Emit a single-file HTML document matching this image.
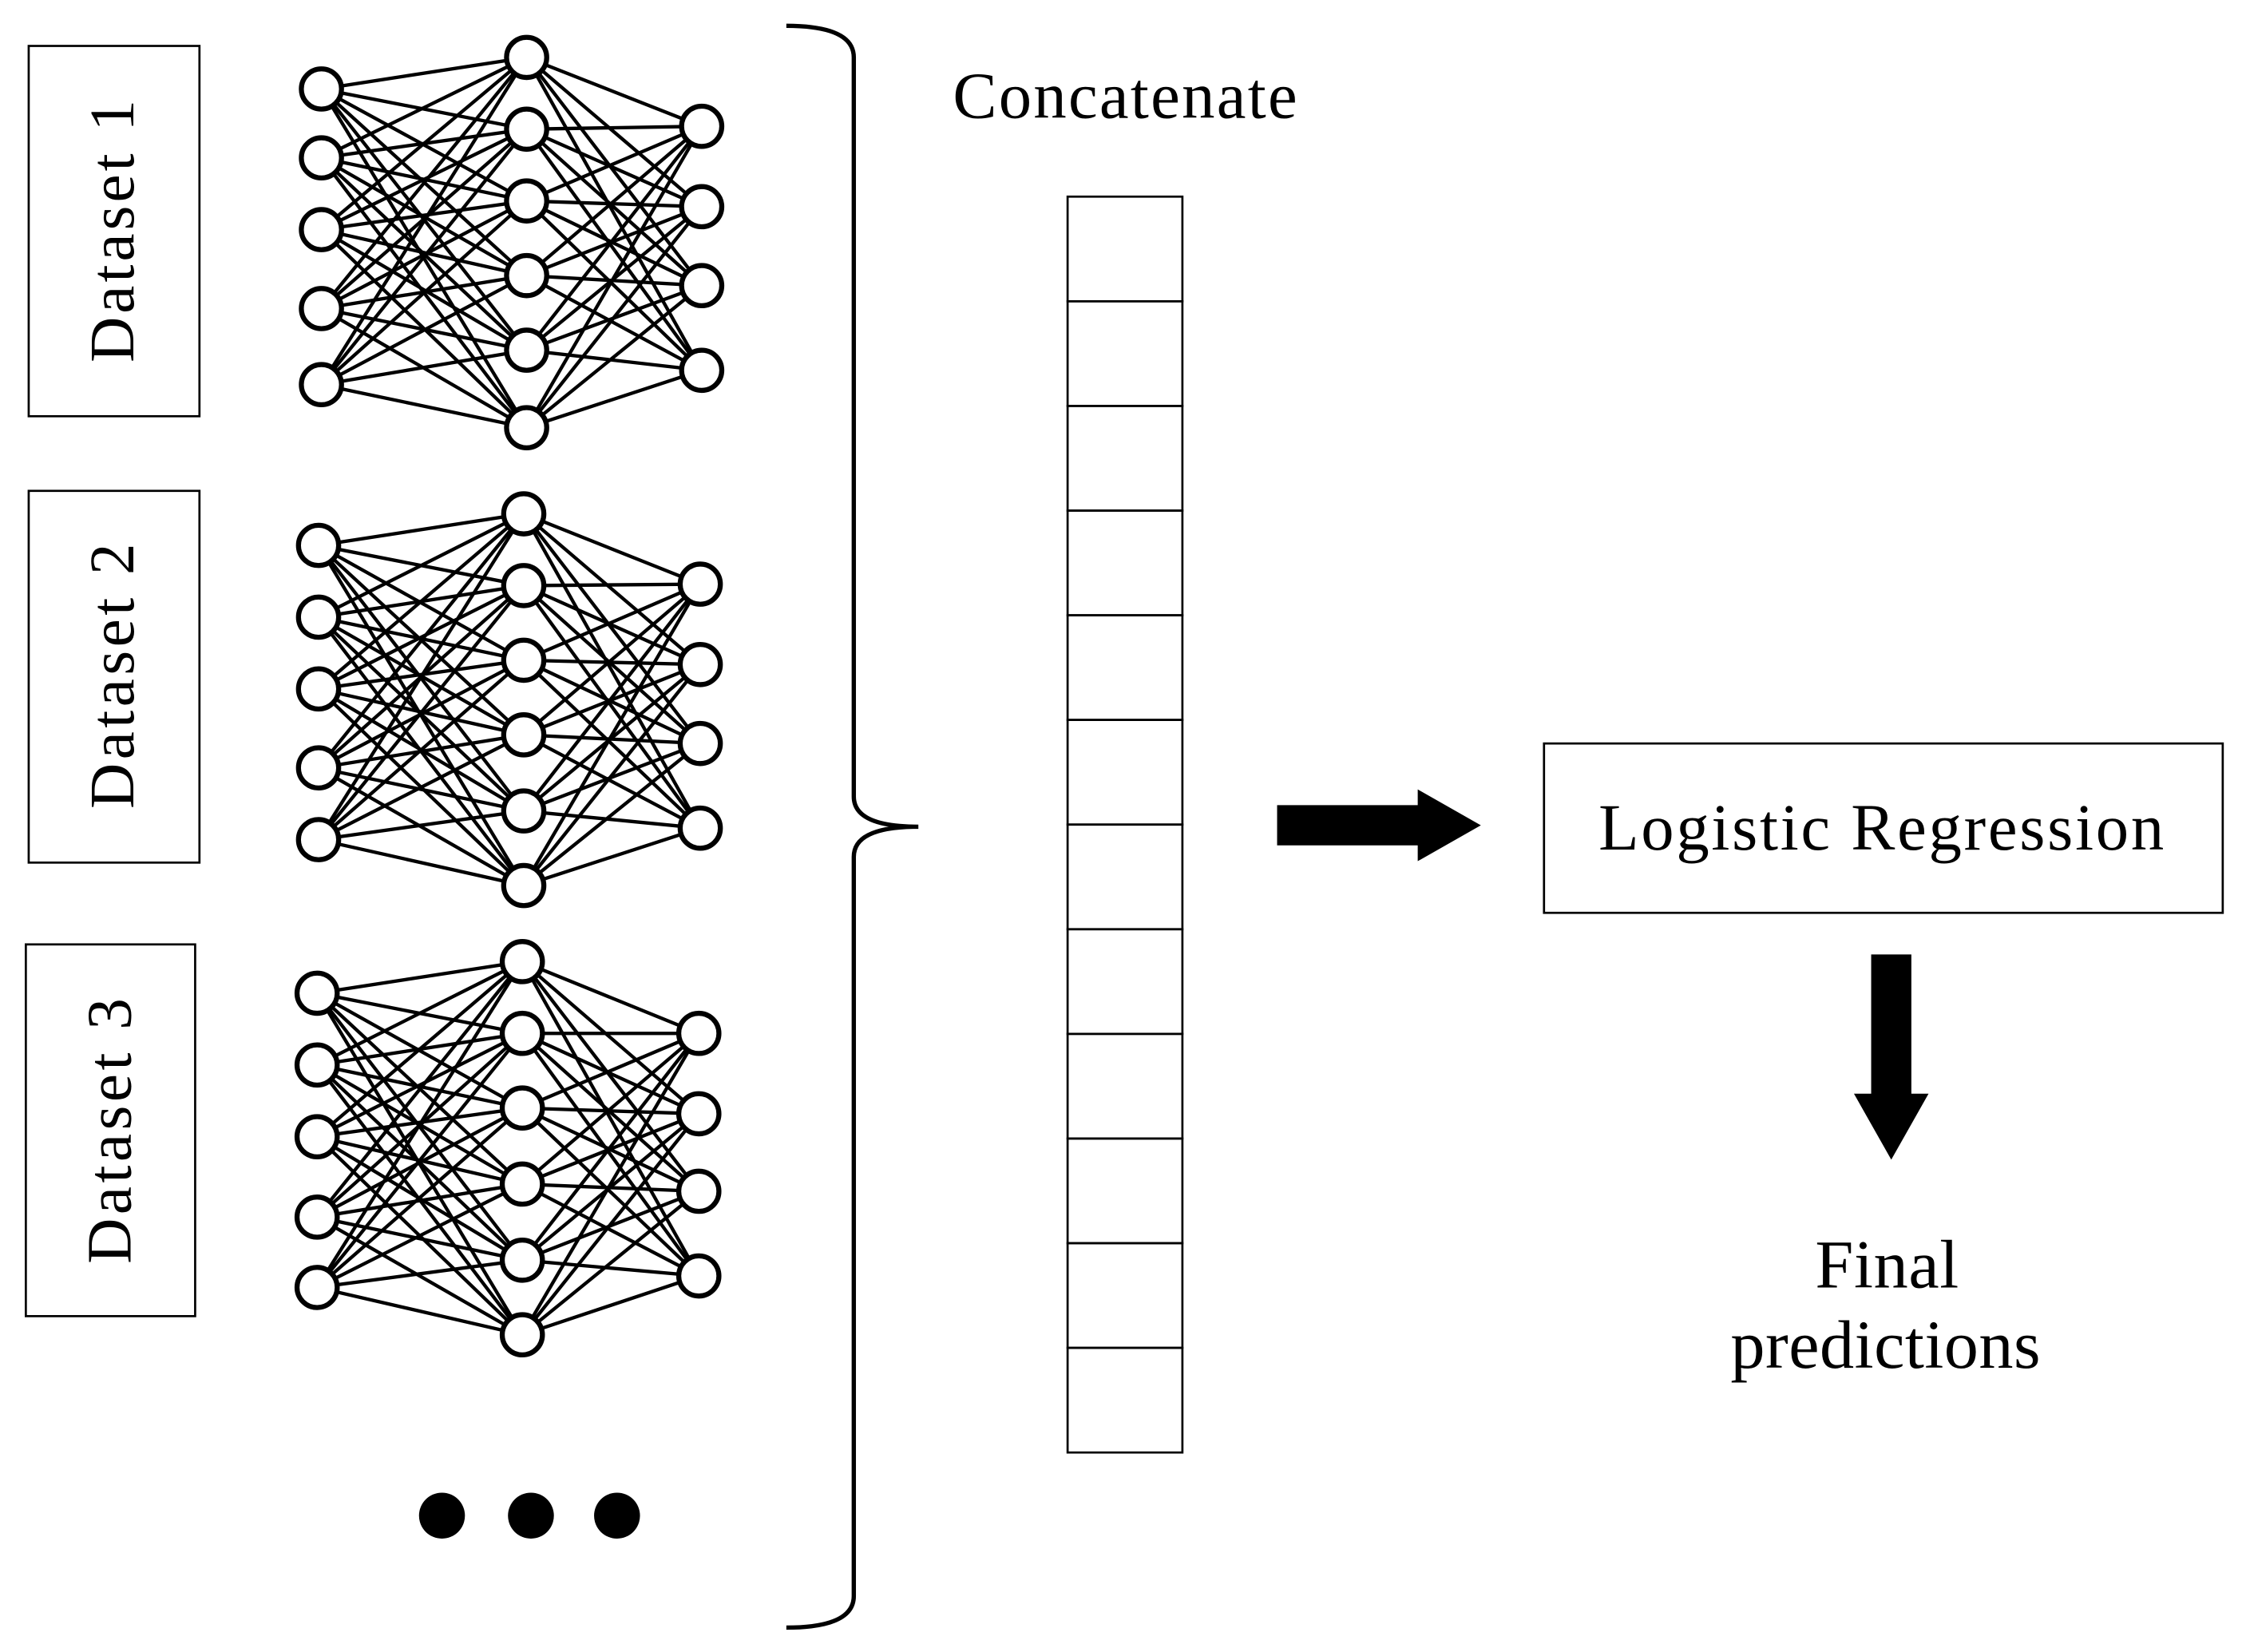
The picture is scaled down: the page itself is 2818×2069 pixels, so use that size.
<!DOCTYPE html>
<html><head><meta charset="utf-8"><style>
html,body{margin:0;padding:0;background:#fff;}
svg{display:block;}
text{font-family:"Liberation Serif",serif;fill:#000;}
</style></head><body>
<svg id="s" width="2818" height="2069" viewBox="0 0 1568 1151" preserveAspectRatio="none" xmlns="http://www.w3.org/2000/svg">
<rect x="0" y="0" width="1568" height="1151" fill="#fff"/>
<g fill="none" stroke="#000" stroke-width="1.5">
<rect x="20" y="32" width="119" height="258"/>
<rect x="20" y="342" width="119" height="259"/>
<rect x="18" y="658" width="118" height="259"/>
<rect x="1076" y="518" width="473" height="118"/>
</g>
<text transform="translate(93,161) rotate(-90)" font-size="44" text-anchor="middle" textLength="183" lengthAdjust="spacing">Dataset 1</text>
<text transform="translate(93,471) rotate(-90)" font-size="44" text-anchor="middle" textLength="185" lengthAdjust="spacing">Dataset 2</text>
<text transform="translate(91,788) rotate(-90)" font-size="44" text-anchor="middle" textLength="185" lengthAdjust="spacing">Dataset 3</text>
<g id="nets"></g>
<path d="M548,18 Q595,18 595,40 L595,555 Q595,576 640,576 Q595,576 595,597 L595,1112 Q595,1134 548,1134" fill="none" stroke="#000" stroke-width="3"/>
<circle cx="308" cy="1056" r="16"/><circle cx="370" cy="1056" r="16"/><circle cx="430" cy="1056" r="16"/>
<text x="664" y="82" font-size="46" textLength="240" lengthAdjust="spacing">Concatenate</text>
<g id="col" fill="none" stroke="#000" stroke-width="1.5"></g>
<polygon points="890,561 988,561 988,550 1032,575 988,600 988,589 890,589" fill="#000"/>
<text x="1114" y="592" font-size="46" textLength="394" lengthAdjust="spacing">Logistic Regression</text>
<polygon points="1304,665 1332,665 1332,762 1344,762 1318,808 1292,762 1304,762" fill="#000"/>
<text x="1265" y="897" font-size="48" textLength="100" lengthAdjust="spacing">Final</text>
<text x="1206" y="953" font-size="48" textLength="216" lengthAdjust="spacing">predictions</text>
</svg>
<script>
var NS="http://www.w3.org/2000/svg";
var nets=[
 [[224,[62,110,160,215,268]],[367,[40,90,140,192,244,298]],[489,[88,144,199,258]]],
 [[222,[380,430,480,535,585]],[365,[358,408,460,512,565,617]],[488,[407,463,518,577]]],
 [[221,[692,742,792,848,897]],[364,[670,720,772,825,878,930]],[487,[720,776,830,889]]]
];
var g=document.getElementById("nets");
function el(n,a){var e=document.createElementNS(NS,n);for(var k in a)e.setAttribute(k,a[k]);g.appendChild(e);}
nets.forEach(function(L){
 for(var l=0;l<2;l++){L[l][1].forEach(function(y1){L[l+1][1].forEach(function(y2){
  el("line",{x1:L[l][0],y1:y1,x2:L[l+1][0],y2:y2,stroke:"#000","stroke-width":2.4});});});}
 L.forEach(function(c){c[1].forEach(function(y){el("circle",{cx:c[0],cy:y,r:14,fill:"#fff",stroke:"#000","stroke-width":3.5});});});
});
var col=document.getElementById("col");
var h=(1012-137)/12;
for(var i=0;i<12;i++){var r=document.createElementNS(NS,"rect");r.setAttribute("x",744);r.setAttribute("y",137+i*h);r.setAttribute("width",80);r.setAttribute("height",h);col.appendChild(r);}
</script>
</body></html>
